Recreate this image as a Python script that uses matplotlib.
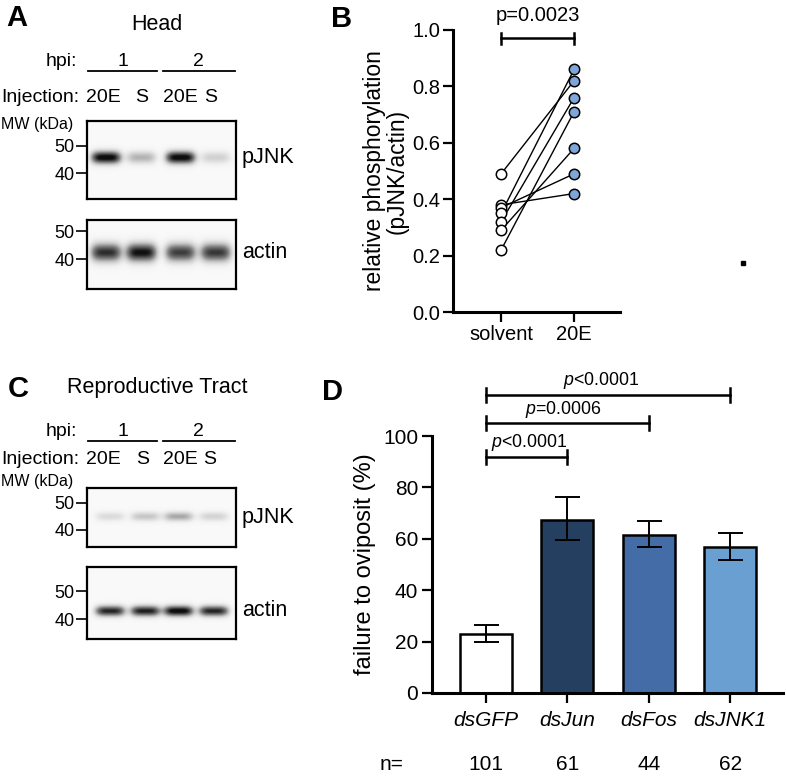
import numpy as np
import matplotlib
matplotlib.use("Agg")
import matplotlib.pyplot as plt
from matplotlib.lines import Line2D

plt.rcParams['font.family'] = ['Liberation Sans', 'DejaVu Sans']
plt.rcParams['mathtext.fontset'] = 'custom'
plt.rcParams['mathtext.it'] = 'Liberation Sans:italic'
plt.rcParams['mathtext.rm'] = 'Liberation Sans'

# ---- data ----
lane_labels = ["20E", "S", "20E", "S"]
hpi_labels = ["1", "2"]

# relative band intensities (0..1) per lane
head_pjnk = [1.0, 0.38, 1.0, 0.25]
head_actin = [0.85, 0.95, 0.80, 0.82]
repro_pjnk = [0.2, 0.3, 0.42, 0.24]
repro_actin = [0.88, 0.90, 1.0, 0.88]

# panel B: paired values
solvent_vals = [0.49, 0.38, 0.37, 0.35, 0.32, 0.29, 0.22]
e20_vals = [0.82, 0.42, 0.49, 0.86, 0.76, 0.58, 0.71]
b_categories = ["solvent", "20E"]
b_pvalue = "p=0.0023"

# panel D
d_categories = ["dsGFP", "dsJun", "dsFos", "dsJNK1"]
d_values = [22.9, 67.5, 61.4, 56.8]
d_err_low = [3.2, 8.0, 4.7, 4.9]
d_err_high = [3.6, 8.7, 5.5, 5.6]
d_n = [101, 61, 44, 62]
d_colors = ["white", "#253f60", "#446ca6", "#6a9fd2"]
# (from, to, bracket height, label x, label)
d_comparisons = [(0, 1, 91.8, 0.53, "$p$<0.0001"),
                 (0, 2, 105.0, 0.95, "$p$=0.0006"),
                 (0, 3, 116.0, 1.41, "$p$<0.0001")]

W, H = 786, 777
fig = plt.figure(figsize=(W / 100, H / 100), dpi=100)


def px_axes(x0, y0, x1, y1):
    return fig.add_axes([x0 / W, 1 - y1 / H, (x1 - x0) / W, (y1 - y0) / H])


def ftext(x, y, s, **kw):
    fig.text(x / W, 1 - y / H, s, **kw)


def fline(x0, x1, y, lw=1.3):
    fig.add_artist(Line2D([x0 / W, x1 / W], [1 - y / H, 1 - y / H], color="black", lw=lw,
                          transform=fig.transFigure))


def blot(box, lanes_x, intensities, band_y, sig_y, half_w, ticks50, ticks40):
    x0, y0, x1, y1 = box
    bw, bh = x1 - x0, y1 - y0
    ax = px_axes(x0, y0, x1, y1)
    xs = np.linspace(0, bw, bw * 4)
    ys = np.linspace(0, bh, bh * 4)
    X, Y = np.meshgrid(xs, ys)
    img = np.full(X.shape, 0.05)
    for cx, inten in zip(lanes_x, intensities):
        prof_x = np.exp(-np.abs((X - (cx - x0)) / half_w) ** 4)
        prof_y = np.exp(-0.5 * ((Y - (band_y - y0)) / sig_y) ** 2)
        img += inten * prof_x * prof_y
    ax.imshow(np.clip(img, 0, 1), cmap="Greys", vmin=0, vmax=1.05, extent=[0, bw, bh, 0],
              aspect="auto", interpolation="bilinear")
    ax.set_xlim(0, bw)
    ax.set_ylim(bh, 0)
    ax.set_xticks([])
    ax.set_yticks([ticks50 - y0, ticks40 - y0])
    ax.set_yticklabels(["50", "40"], fontsize=13)
    ax.tick_params(axis="y", length=8, width=1.2, pad=1)
    for sp in ax.spines.values():
        sp.set_linewidth(1.6)
    return ax


def blot_header(y_title, title, y_hpi, y_inj, y_mw, lane_x):
    ftext(157, y_title, title, fontsize=15.5, ha="center", va="center")
    ftext(77, y_hpi, "hpi:", fontsize=14, ha="right", va="center")
    ftext(123, y_hpi, hpi_labels[0], fontsize=14, ha="center", va="center")
    ftext(198, y_hpi, hpi_labels[1], fontsize=14, ha="center", va="center")
    fline(88, 157, y_hpi + 9)
    fline(163, 235, y_hpi + 9)
    ftext(1, y_inj, "Injection:", fontsize=14, ha="left", va="center")
    for lx, lab in zip(lane_x, lane_labels):
        ftext(lx, y_inj, lab, fontsize=14, ha="center", va="center")
    ftext(1, y_mw, "MW (kDa)", fontsize=11.5, ha="left", va="center")


# ---- panel A ----
ftext(17, 18, "A", fontsize=21, fontweight="bold", ha="center", va="center")
blot_header(25, "Head", 62, 97, 125, [103, 142, 180, 211])
head_lanes = [106, 141, 180, 215]
blot((87, 121, 236, 199), head_lanes, head_pjnk, 158, 4.5, 15, 146, 173)
ftext(242, 158, "pJNK", fontsize=15.5, ha="left", va="center")
blot((87, 220, 236, 289), head_lanes, head_actin, 253, 6.5, 15.5, 231, 259)
ftext(242, 253, "actin", fontsize=15.5, ha="left", va="center")

# ---- panel C ----
ftext(18, 389, "C", fontsize=21, fontweight="bold", ha="center", va="center")
blot_header(387, "Reproductive Tract", 432, 460, 482, [103, 143, 180, 210])
repro_lanes = [110, 145, 178, 213]
blot((87, 488, 236, 547), repro_lanes, repro_pjnk, 517, 3.4, 15, 503, 530)
ftext(242, 517, "pJNK", fontsize=15.5, ha="left", va="center")
blot((87, 567, 236, 639), repro_lanes, repro_actin, 611, 3.8, 15, 591, 619)
ftext(242, 611, "actin", fontsize=15.5, ha="left", va="center")

# ---- panel B ----
ftext(342, 19, "B", fontsize=21, fontweight="bold", ha="center", va="center")
axb = px_axes(453, 30, 620, 312)
for s, e in zip(solvent_vals, e20_vals):
    axb.plot([0, 1], [s, e], color="black", lw=1.0, zorder=2)
axb.plot(np.zeros(len(solvent_vals)), solvent_vals, "o", ms=7.5, mfc="white", mec="black",
         mew=1.1, zorder=3, clip_on=False)
axb.plot(np.ones(len(e20_vals)), e20_vals, "o", ms=7.5, mfc="#7fa6d9", mec="black",
         mew=1.1, zorder=3, clip_on=False)
axb.set_xlim(-0.66, 1.63)
axb.set_ylim(0, 1.0)
axb.set_yticks([0, 0.2, 0.4, 0.6, 0.8, 1.0])
axb.set_yticklabels(["0.0", "0.2", "0.4", "0.6", "0.8", "1.0"])
axb.set_xticks([0, 1])
axb.set_xticklabels(b_categories)
axb.tick_params(labelsize=14.5, length=7, width=1.6, pad=2)
axb.spines["top"].set_visible(False)
axb.spines["right"].set_visible(False)
axb.spines["left"].set_linewidth(2.2)
axb.spines["bottom"].set_linewidth(2.2)
axb.set_ylabel("relative phosphorylation\n(pJNK/actin)", fontsize=16.4, linespacing=0.95, labelpad=3)
axb.plot([0, 1], [0.97, 0.97], color="black", lw=1.8, clip_on=False)
for xx in [0, 1]:
    axb.plot([xx, xx], [0.95, 0.99], color="black", lw=1.8, clip_on=False)
axb.text(0.5, 1.05, b_pvalue, fontsize=14.5, ha="center", va="center")

# stray dot
fig.add_artist(Line2D([743 / W], [1 - 263 / H], marker="s", ms=2.2, color="black", lw=0,
                      transform=fig.transFigure))

# ---- panel D ----
ftext(332, 392, "D", fontsize=21, fontweight="bold", ha="center", va="center")
axd = px_axes(432, 436, 783, 693)
xpos = np.arange(len(d_categories))
axd.bar(xpos, d_values, width=0.64, color=d_colors, edgecolor="black", linewidth=1.8, zorder=2)
axd.errorbar(xpos, d_values, yerr=[d_err_low, d_err_high], fmt="none", ecolor="black",
             elinewidth=1.4, capsize=9, capthick=1.4, zorder=3)
axd.set_xlim(-0.66, 3.65)
axd.set_ylim(0, 100)
axd.set_yticks([0, 20, 40, 60, 80, 100])
axd.set_xticks(xpos)
axd.set_xticklabels(d_categories, fontstyle="italic", fontsize=15.7)
axd.tick_params(labelsize=15, length=7, width=1.6, pad=3)
axd.tick_params(axis="x", pad=6)
axd.spines["top"].set_visible(False)
axd.spines["right"].set_visible(False)
axd.spines["left"].set_linewidth(2.2)
axd.spines["bottom"].set_linewidth(2.2)
axd.set_ylabel("failure to oviposit (%)", fontsize=17, labelpad=5)
for i, j, yb, tx, lab in d_comparisons:
    axd.plot([i, j], [yb, yb], color="black", lw=1.8, clip_on=False)
    for xx in [i, j]:
        axd.plot([xx, xx], [yb - 2.8, yb + 2.8], color="black", lw=1.8, clip_on=False)
    axd.text(tx, yb + 5.5, lab, fontsize=12.8, ha="center", va="center")

axd.text(-1.16, -28, "n=", fontsize=15, ha="center", va="center", clip_on=False)
for xx, nn in zip(xpos, d_n):
    axd.text(xx, -28, str(nn), fontsize=15, ha="center", va="center", clip_on=False)

fig.savefig("out.png", dpi=100)
